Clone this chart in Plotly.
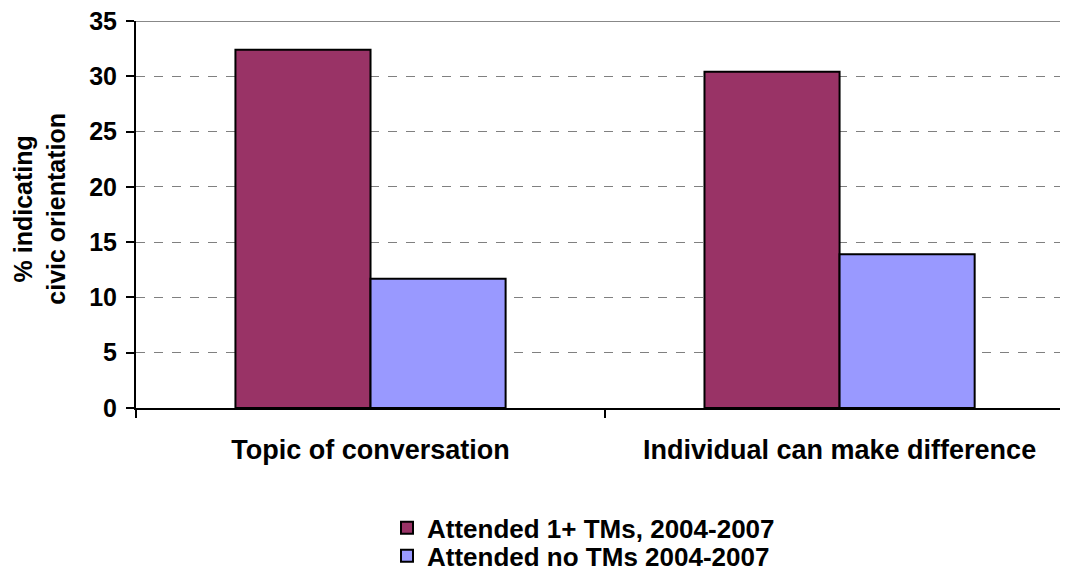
import plotly.graph_objects as go

# 数据
categories = ["Topic of conversation", "Individual can make difference"]
attended_tm = [32.4, 30.4]
attended_none = [11.7, 13.9]
series_names = ["Attended 1+ TMs, 2004-2007", "Attended no TMs 2004-2007"]
y_ticks = [0, 5, 10, 15, 20, 25, 30, 35]

FONT = "Liberation Sans, Arial, sans-serif"

fig = go.Figure()
fig.add_trace(go.Bar(
    x=categories, y=attended_tm, name=series_names[0], legend="legend",
    marker=dict(color="#993366", line=dict(color="black", width=2)),
))
fig.add_trace(go.Bar(
    x=categories, y=attended_none, name=series_names[1], legend="legend2",
    marker=dict(color="#9999FF", line=dict(color="black", width=2)),
))

# 顶部实线网格
fig.add_shape(type="line", xref="paper", yref="y", x0=0, x1=1, y0=35, y1=35,
              line=dict(color="#888888", width=2), layer="below")

# 纵轴标题
fig.add_annotation(text="% indicating<br>civic orientation", xref="paper", yref="paper",
                   x=-0.103, y=0.515, xanchor="center", yanchor="middle",
                   textangle=-90, showarrow=False,
                   font=dict(size=25, weight="bold"))

legend_style = dict(xanchor="left", yanchor="middle", orientation="v",
                    font=dict(size=26, weight="bold"), itemwidth=30,
                    bgcolor="rgba(0,0,0,0)")

fig.update_layout(
    width=1060, height=572,
    margin=dict(l=128, r=0, t=13, b=172),
    plot_bgcolor="white", paper_bgcolor="white",
    font=dict(family=FONT, size=25, color="black", weight="bold"),
    barmode="group", bargap=0.424, bargroupgap=0,
    showlegend=True,
    legend=dict(x=0.2693, y=-0.310, **legend_style),
    legend2=dict(x=0.2693, y=-0.382, **legend_style),
    xaxis=dict(
        range=[-0.5, 1.487], showline=True, linecolor="black", linewidth=2,
        ticks="outside", tickson="boundaries", ticklen=8, tickwidth=2,
        tickcolor="black", showgrid=False, automargin=False,
        tickfont=dict(size=27, weight="bold"), ticklabelstandoff=17,
    ),
    yaxis=dict(
        range=[0, 35], tickvals=y_ticks, showline=True, linecolor="black",
        linewidth=2, ticks="outside", ticklen=8, tickwidth=2, tickcolor="black",
        showgrid=True, gridcolor="#808080", griddash="dash", gridwidth=1,
        zeroline=False, automargin=False, ticklabelstandoff=4,
        ticklabeloverflow="allow",
    ),
)

fig.write_html("out.html")
